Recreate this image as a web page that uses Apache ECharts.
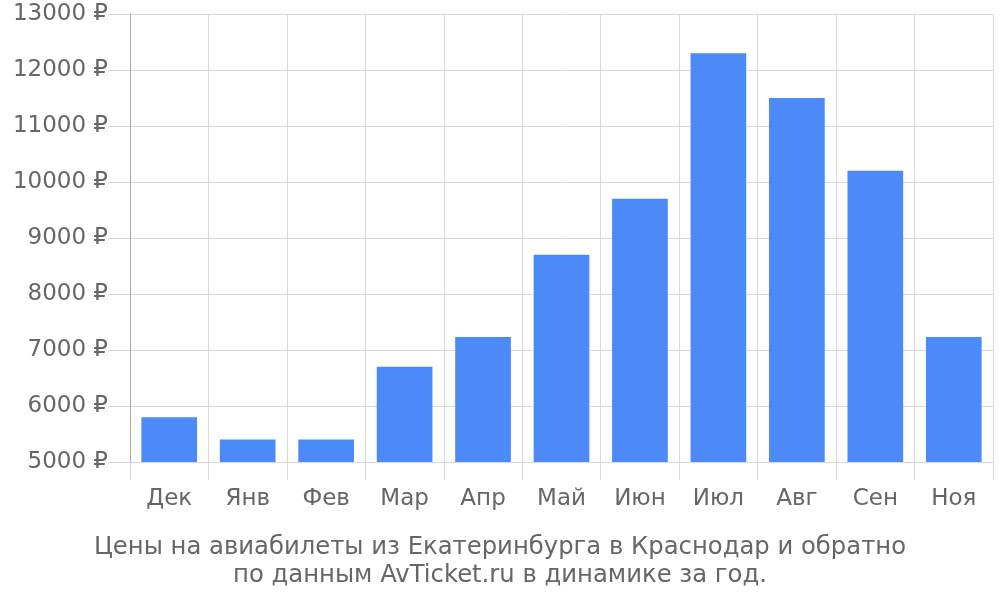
<!DOCTYPE html>
<html><head><meta charset="utf-8">
<script src="https://cdn.jsdelivr.net/npm/echarts@6/dist/echarts.min.js"></script>
<style>html,body{margin:0;padding:0;background:#fff}#c{width:1000px;height:600px}</style>
</head><body><div id="c"></div>
<script>
var months = ['Дек','Янв','Фев','Мар','Апр','Май','Июн','Июл','Авг','Сен','Ноя'];
var prices = [5800,5400,5400,6700,7230,8700,9700,12300,11500,10200,7230];
var titleLines = ['Цены на авиабилеты из Екатеринбурга в Краснодар и обратно','по данным AvTicket.ru в динамике за год.'];
var chart = echarts.init(document.getElementById('c'));
var font = 'DejaVu Sans';
chart.setOption({
  animation:false,
  textStyle:{fontFamily:font},
  title:{text:titleLines.join('\n'),left:'center',bottom:5,
    textStyle:{fontFamily:font,fontSize:24.3,fontWeight:'normal',color:'#666',lineHeight:28}},
  grid:{left:130,right:7,top:14,bottom:138},
  xAxis:{type:'category',data:months,boundaryGap:true,
    axisLine:{show:true,lineStyle:{color:'#d9d9d9',width:1}},
    axisTick:{show:true,length:18,alignWithLabel:false,lineStyle:{color:'#d9d9d9'}},
    splitLine:{show:true,lineStyle:{color:'#d9d9d9'}},
    axisLabel:{fontSize:23,color:'#666',margin:26,fontFamily:font}},
  yAxis:{type:'value',min:5000,max:13000,interval:1000,
    axisLine:{show:true,lineStyle:{color:'#aaa',width:1}},
    axisTick:{show:true,length:22,lineStyle:{color:'#d9d9d9'}},
    splitLine:{show:true,lineStyle:{color:'#d9d9d9'}},
    axisLabel:{fontSize:23,color:'#666',margin:22,padding:[4,0,0,0],fontFamily:font,formatter:function(v){return v+' ₽';}}},
  series:[{type:'bar',data:prices,barCategoryGap:'29%',itemStyle:{color:'#4d8af9'}}]
});
</script></body></html>
